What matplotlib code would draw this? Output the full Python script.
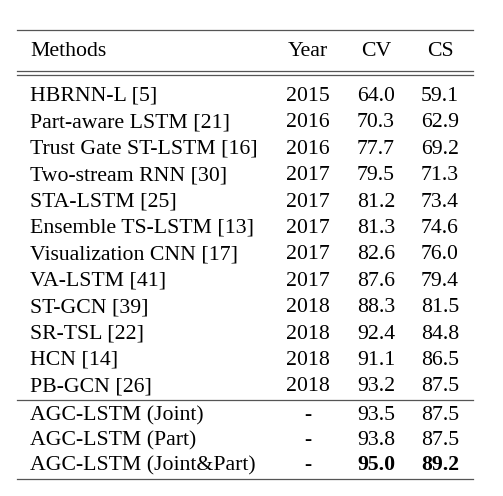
import matplotlib
matplotlib.use('Agg')
import matplotlib.pyplot as plt

# === Table data ===
header = ['Methods', 'Year', 'CV', 'CS']
methods = ['HBRNN-L [5]', 'Part-aware LSTM [21]', 'Trust Gate ST-LSTM [16]',
           'Two-stream RNN [30]', 'STA-LSTM [25]', 'Ensemble TS-LSTM [13]',
           'Visualization CNN [17]', 'VA-LSTM [41]', 'ST-GCN [39]',
           'SR-TSL [22]', 'HCN [14]', 'PB-GCN [26]']
years = ['2015', '2016', '2016', '2017', '2017', '2017',
         '2017', '2017', '2018', '2018', '2018', '2018']
cv = ['64.0', '70.3', '77.7', '79.5', '81.2', '81.3',
      '82.6', '87.6', '88.3', '92.4', '91.1', '93.2']
cs = ['59.1', '62.9', '69.2', '71.3', '73.4', '74.6',
      '76.0', '79.4', '81.5', '84.8', '86.5', '87.5']

ours = ['AGC-LSTM (Joint)', 'AGC-LSTM (Part)', 'AGC-LSTM (Joint&Part)']
ours_year = ['-', '-', '-']
ours_cv = ['93.5', '93.8', '95.0']
ours_cs = ['87.5', '87.5', '89.2']
ours_bold = [False, False, True]

W, H = 503, 496
fig = plt.figure(figsize=(W / 100, H / 100), dpi=100)
ax = fig.add_axes([0, 0, 1, 1])
ax.set_xlim(0, W)
ax.set_ylim(H, 0)
ax.axis('off')

plt.rcParams['font.family'] = ['Liberation Serif', 'DejaVu Serif']
fs = 15.7

col_x = [30, 308, 376, 440]
col_ha = ['left', 'center', 'center', 'center']
x0, x1 = 17, 473
line_kw = dict(color='#555555', lw=0.9)


def row(y, cells, bold=False):
    for j, (c, x, ha) in enumerate(zip(cells, col_x, col_ha)):
        w = 'bold' if (bold and j >= 2) else 'normal'
        ax.text(x, y, c, ha=ha, va='baseline', fontsize=fs, fontweight=w,
                color='black')


# rules
ax.plot([x0, x1], [30, 30], **line_kw)
ax.plot([x0, x1], [70.7, 70.7], **line_kw)
ax.plot([x0, x1], [75.3, 75.3], **line_kw)
ax.plot([x0, x1], [400, 400], **line_kw)
ax.plot([x0, x1], [479, 479], **line_kw)

row(56, header)
for i in range(len(methods)):
    row(101 + i * 26.4, [methods[i], years[i], cv[i], cs[i]])
for i in range(len(ours)):
    row(420 + i * 25, [ours[i], ours_year[i], ours_cv[i], ours_cs[i]],
        bold=ours_bold[i])

plt.savefig('out.png', dpi=100)
plt.close()
